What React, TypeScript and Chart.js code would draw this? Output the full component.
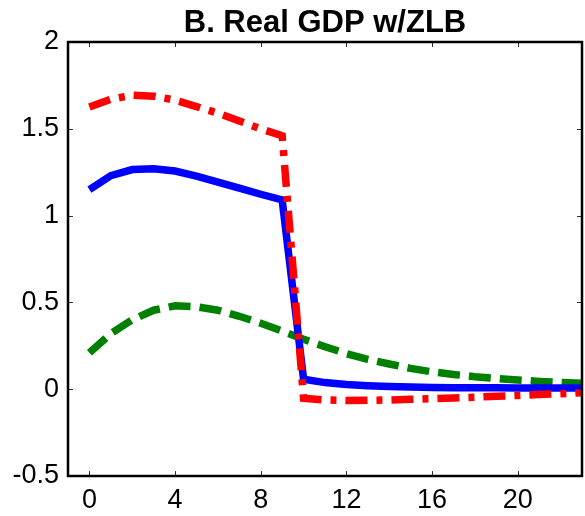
import React, { useEffect, useRef } from "react";
import { Chart, registerables } from "chart.js";

Chart.register(...registerables);

const TITLE = "B. Real GDP w/ZLB";
const quarters = [0, 1, 2, 3, 4, 5, 6, 7, 8, 9, 10, 11, 12, 13, 14, 15, 16, 17, 18, 19, 20, 21, 22, 23];
const blueSeries = [1.15, 1.23, 1.265, 1.27, 1.257, 1.228, 1.193, 1.158, 1.123, 1.09, 0.057, 0.038, 0.027, 0.02, 0.015, 0.012, 0.01, 0.009, 0.008, 0.008, 0.007, 0.007, 0.007, 0.007];
const redSeries = [1.625, 1.67, 1.693, 1.688, 1.665, 1.628, 1.59, 1.545, 1.5, 1.46, -0.052, -0.062, -0.065, -0.064, -0.062, -0.058, -0.054, -0.05, -0.046, -0.041, -0.036, -0.031, -0.026, -0.02];
const greenSeries = [0.21, 0.32, 0.4, 0.455, 0.48, 0.475, 0.455, 0.42, 0.38, 0.335, 0.288, 0.245, 0.205, 0.172, 0.145, 0.12, 0.1, 0.085, 0.072, 0.062, 0.053, 0.045, 0.039, 0.034];
const xTicks = [0, 4, 8, 12, 16, 20];
const yTicks = [-0.5, 0, 0.5, 1, 1.5, 2];

const FONT = "'Liberation Sans', Arial, Helvetica, sans-serif";

const framePlugin = {
  id: "matlabFrame",
  afterDraw(chart: any) {
    const { ctx, chartArea: a, scales } = chart;
    ctx.save();
    ctx.strokeStyle = "#333";
    ctx.lineWidth = 1;
    const tl = 5;
    ctx.beginPath();
    for (const v of xTicks) {
      const px = Math.round(scales.x.getPixelForValue(v)) + 0.5;
      ctx.moveTo(px, a.bottom);
      ctx.lineTo(px, a.bottom - tl);
      ctx.moveTo(px, a.top);
      ctx.lineTo(px, a.top + tl);
    }
    for (const v of yTicks) {
      const py = Math.round(scales.y.getPixelForValue(v)) + 0.5;
      ctx.moveTo(a.left, py);
      ctx.lineTo(a.left + tl, py);
      ctx.moveTo(a.right, py);
      ctx.lineTo(a.right - tl, py);
    }
    ctx.stroke();
    ctx.strokeStyle = "#000";
    ctx.lineWidth = 2.5;
    ctx.strokeRect(a.left, a.top, a.right - a.left, a.bottom - a.top);
    ctx.fillStyle = "#000";
    ctx.font = "bold 31px " + FONT;
    ctx.textAlign = "center";
    ctx.textBaseline = "alphabetic";
    ctx.fillText(TITLE, (a.left + a.right) / 2, 31.5);
    ctx.restore();
  },
};

export default function App() {
  const ref = useRef<HTMLCanvasElement>(null);
  useEffect(() => {
    document.body.style.margin = "0";
    const toPts = (arr: number[]) => quarters.map((q, i) => ({ x: q, y: arr[i] }));
    const chart = new Chart(ref.current!, {
      type: "line",
      data: {
        datasets: [
          {
            label: "red",
            data: toPts(redSeries),
            borderColor: "#ff0000",
            borderWidth: 7.5,
            borderDash: [22, 9, 6, 9],
            borderCapStyle: "butt",
            borderJoinStyle: "miter",
            pointRadius: 0,
            tension: 0,
            order: 0,
          },
          {
            label: "blue",
            data: toPts(blueSeries),
            borderColor: "#0000ff",
            borderWidth: 7.5,
            borderJoinStyle: "miter",
            pointRadius: 0,
            tension: 0,
            order: 1,
          },
          {
            label: "green",
            data: toPts(greenSeries),
            borderColor: "#008000",
            borderWidth: 7.5,
            borderDash: [22, 9],
            borderCapStyle: "butt",
            pointRadius: 0,
            tension: 0,
            order: 2,
          },
        ],
      },
      plugins: [framePlugin],
      options: {
        animation: false,
        responsive: false,
        devicePixelRatio: 1,
        layout: { padding: { top: 42, right: 3, left: 0, bottom: 0 } },
        plugins: { legend: { display: false }, tooltip: { enabled: false }, title: { display: false } },
        scales: {
          x: {
            type: "linear",
            min: -1,
            max: 23,
            grid: { display: false, drawTicks: false },
            border: { display: false },
            afterBuildTicks: (s: any) => {
              s.ticks = xTicks.map((v) => ({ value: v }));
            },
            afterFit: (s: any) => {
              s.height = 40;
            },
            ticks: {
              padding: 8,
              maxRotation: 0,
              autoSkip: false,
              color: "#000",
              font: { family: FONT, size: 27 },
              callback: (v: any) => String(v),
            },
          },
          y: {
            type: "linear",
            min: -0.5,
            max: 2,
            grid: { display: false, drawTicks: false },
            border: { display: false },
            afterBuildTicks: (s: any) => {
              s.ticks = yTicks.map((v) => ({ value: v }));
            },
            afterFit: (s: any) => {
              s.width = 68;
            },
            ticks: {
              padding: 9,
              autoSkip: false,
              color: "#000",
              font: { family: FONT, size: 27 },
              callback: (v: any) => String(v),
            },
          },
        },
      },
    } as any);
    return () => chart.destroy();
  }, []);
  return (
    <div style={{ width: 585, height: 516 }}>
      <canvas ref={ref} width={585} height={516} style={{ display: "block" }} />
    </div>
  );
}
